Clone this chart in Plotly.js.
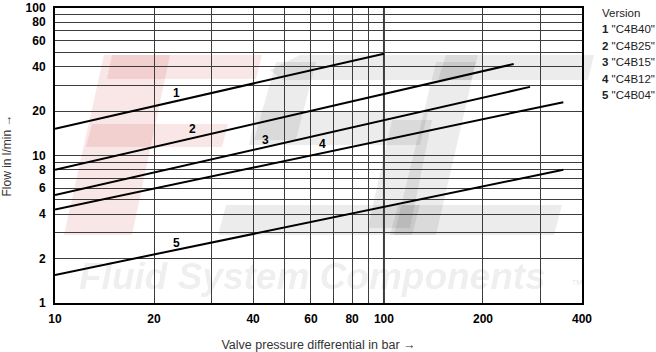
<!DOCTYPE html>
<html>
<head>
<meta charset="utf-8">
<script src="https://cdn.plot.ly/plotly-3.0.1.min.js"></script>
<style>html,body{margin:0;padding:0;background:#fff;}#chart{width:656px;height:352px;}</style>
</head>
<body>
<div id="chart"></div>
<script>
// Versions (curve numbers 1..5)
const versions = ["C4B40", "C4B25", "C4B15", "C4B12", "C4B04"];
// Valve pressure differential (bar) at start / end of each characteristic
const dpStart = [10, 10, 10, 10, 10];
const dpEnd = [100, 248, 278, 351, 351];
// Flow (l/min) at start / end of each characteristic
const flowStart = [15.2, 8.0, 5.4, 4.3, 1.55];
const flowEnd = [49, 41.7, 29.2, 23.0, 8.0];
// Curve number label positions
const labelDp = [23.4, 26.2, 43.6, 65.2, 23.4];
const labelFlow = [26.5, 15.2, 12.8, 11.9, 2.55];
// Axis ticks
const xTickVals = [10, 20, 30, 40, 50, 60, 70, 80, 90, 100, 200, 300, 400];
const xTickText = ["10", "20", "", "40", "", "60", "", "80", "", "100", "200", "", "400"];
const yTickVals = [1, 2, 3, 4, 5, 6, 7, 8, 9, 10, 20, 30, 40, 50, 60, 70, 80, 90, 100];
const yTickText = ["1", "2", "", "4", "", "6", "", "8", "", "10", "20", "", "40", "", "60", "", "80", "", "100"];

const traces = versions.map((v, i) => ({
  type: "scatter",
  mode: "lines",
  name: v,
  x: [dpStart[i], dpEnd[i]],
  y: [flowStart[i], flowEnd[i]],
  line: {color: "#000", width: 2},
  hoverinfo: "skip",
  showlegend: false
}));

const plotL = 55, plotR = 582, plotT = 8, plotB = 303;
const pw = plotR - plotL, ph = plotB - plotT;
const px2paperX = p => (p - plotL) / pw;
const px2paperY = p => (plotB - p) / ph;

// Faint background logo (watermark), polygons in page pixels
function poly(pts, color) {
  const d = pts.map((p, k) => (k ? "L" : "M") + px2paperX(p[0]).toFixed(4) + "," + px2paperY(p[1]).toFixed(4)).join(" ") + " Z";
  return {type: "path", xref: "paper", yref: "paper", path: d, fillcolor: color, line: {width: 0}, layer: "below"};
}
const pink = "rgba(205,60,60,0.13)";
const grey = "rgba(0,0,0,0.075)";
const logo = [
  // F
  poly([[112, 55], [262, 55], [256, 79], [107, 79]], pink),
  poly([[104, 55], [170, 55], [132, 235], [64, 235]], pink),
  poly([[92, 124], [228, 124], [222, 147], [86, 147]], pink),
  // S
  poly([[300, 55], [478, 55], [471, 80], [282, 80], [270, 70]], grey),
  poly([[276, 62], [316, 62], [296, 140], [254, 140]], grey),
  poly([[256, 112], [428, 112], [420, 145], [249, 145]], grey),
  poly([[392, 120], [432, 120], [410, 228], [368, 228]], grey),
  poly([[226, 205], [420, 205], [412, 235], [218, 235]], grey),
  // C
  poly([[446, 55], [594, 55], [588, 80], [438, 80]], grey),
  poly([[436, 62], [476, 62], [436, 235], [394, 235]], grey),
  poly([[398, 205], [562, 205], [554, 235], [390, 235]], grey)
];

const annotations = [];
versions.forEach((v, i) => {
  annotations.push({
    xref: "x", yref: "y",
    x: Math.log10(labelDp[i]), y: Math.log10(labelFlow[i]),
    text: "<b>" + (i + 1) + "</b>",
    showarrow: false,
    font: {family: "Liberation Sans", size: 12, color: "#000"}
  });
});
// Legend text on the right
annotations.push({
  xref: "paper", yref: "paper",
  x: px2paperX(600), y: px2paperY(13),
  xanchor: "left", yanchor: "middle",
  text: "Version", showarrow: false,
  font: {family: "Liberation Sans", size: 11.5, color: "#222"}
});
const legendRowsPx = [29, 45.5, 62, 78.5, 95];
versions.forEach((v, i) => {
  annotations.push({
    xref: "paper", yref: "paper",
    x: px2paperX(600), y: px2paperY(legendRowsPx[i]),
    xanchor: "left", yanchor: "middle",
    text: "<b>" + (i + 1) + "</b> \"" + v + "\"",
    showarrow: false,
    font: {family: "Liberation Sans", size: 11.5, color: "#222"}
  });
});
// Watermark text
annotations.push({
  xref: "paper", yref: "paper",
  x: px2paperX(312), y: px2paperY(276),
  xanchor: "center", yanchor: "middle",
  text: "<b><i>Fluid System Components</i></b>",
  showarrow: false,
  font: {family: "Liberation Sans", size: 37, color: "rgba(0,0,0,0.08)"}
});
annotations.push({
  xref: "paper", yref: "paper",
  x: px2paperX(577), y: px2paperY(282),
  xanchor: "center", yanchor: "middle",
  text: "TM", showarrow: false,
  font: {family: "Liberation Sans", size: 7, color: "rgba(0,0,0,0.15)"}
});

const layout = {
  width: 656, height: 352,
  margin: {l: plotL, r: 656 - plotR, t: plotT, b: 352 - plotB, pad: 0},
  paper_bgcolor: "#fff", plot_bgcolor: "#fff",
  showlegend: false,
  xaxis: {
    type: "log", range: [1, Math.log10(400)],
    tickvals: xTickVals, ticktext: xTickText,
    tickfont: {family: "Liberation Sans", size: 12, color: "#000", weight: "bold"},
    ticks: "outside", ticklen: 4, tickcolor: "rgba(0,0,0,0)",
    showgrid: true, gridcolor: "#3c3c3c", gridwidth: 1,
    showline: true, linecolor: "#000", linewidth: 2, mirror: true,
    zeroline: false,
    title: {text: "Valve pressure differential in bar \u2192", standoff: 16,
      font: {family: "Liberation Sans", size: 12.5, color: "#333"}}
  },
  yaxis: {
    type: "log", range: [0, 2],
    tickvals: yTickVals, ticktext: yTickText,
    tickfont: {family: "Liberation Sans", size: 12, color: "#000", weight: "bold"},
    ticks: "outside", ticklen: 5, tickcolor: "rgba(0,0,0,0)",
    showgrid: true, gridcolor: "#3c3c3c", gridwidth: 1,
    showline: true, linecolor: "#000", linewidth: 2, mirror: true,
    zeroline: false,
    title: {text: "Flow in l/min \u2192", standoff: 12,
      font: {family: "Liberation Sans", size: 12, color: "#333"}}
  },
  shapes: logo.concat([{
    type: "line", xref: "x", yref: "paper",
    x0: 100, x1: 100, y0: 0, y1: 1,
    line: {color: "#3c3c3c", width: 2}, layer: "below"
  }]),
  annotations: annotations
};

Plotly.newPlot("chart", traces, layout, {staticPlot: true, displayModeBar: false});
</script>
</body>
</html>
